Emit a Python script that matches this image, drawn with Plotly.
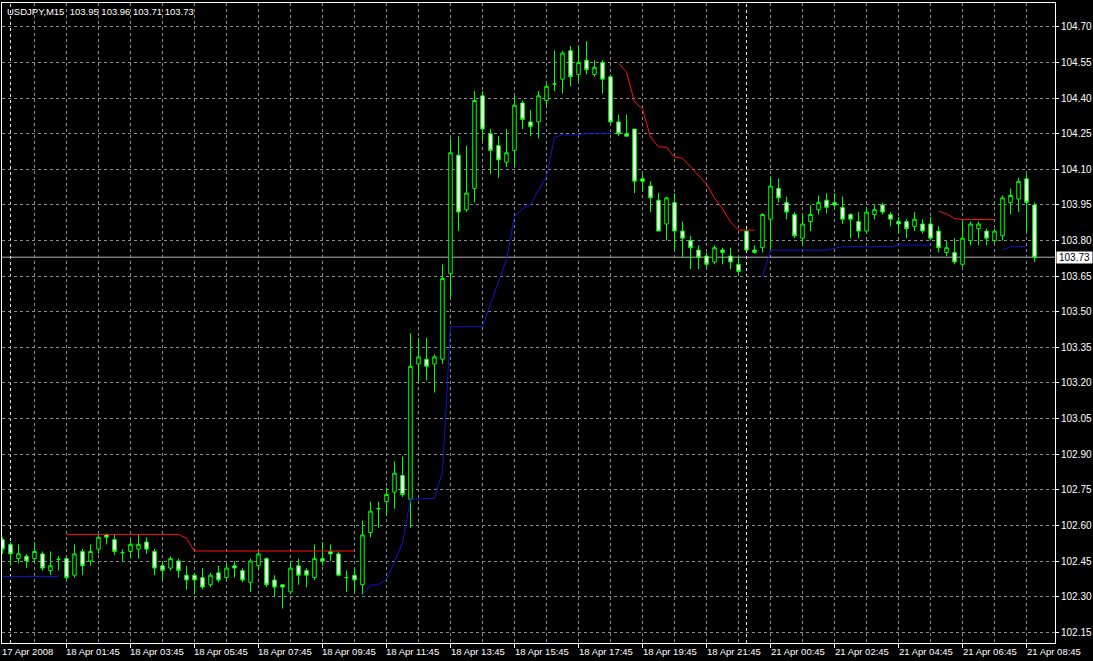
import plotly.graph_objects as go

# ---- data (USDJPY M15, bars 0..129) ----
open_ = [102.54, 102.52, 102.46, 102.47, 102.46, 102.48, 102.41, 102.457, 102.46, 102.39,
         102.49, 102.45, 102.50, 102.56, 102.54, 102.485, 102.49, 102.50, 102.53, 102.49,
         102.43, 102.42, 102.45, 102.39, 102.39, 102.38, 102.35, 102.40, 102.38, 102.43,
         102.41, 102.36, 102.43, 102.46, 102.37, 102.35, 102.32, 102.43, 102.41, 102.38,
         102.46, 102.49, 102.48, 102.38, 102.39, 102.35, 102.57, 102.67, 102.70, 102.74,
         102.81, 102.71, 103.28, 103.30, 103.28, 103.30, 103.66, 104.16, 103.93, 104.02,
         104.41, 104.25, 104.20, 104.13, 104.18, 104.38, 104.30, 104.30, 104.39, 104.46,
         104.48, 104.60, 104.50, 104.56, 104.50, 104.55, 104.49, 104.30, 104.25, 104.27,
         104.06, 104.03, 103.97, 103.87, 103.96, 103.84, 103.80, 103.76, 103.735, 103.71,
         103.76, 103.735, 103.70, 103.84, 103.76, 103.77, 103.89, 104.02, 103.96, 103.91,
         103.81, 103.88, 103.93, 103.97, 103.96, 103.94, 103.91, 103.88, 103.84, 103.91,
         103.95, 103.91, 103.88, 103.88, 103.86, 103.87, 103.87, 103.84, 103.75, 103.75,
         103.70, 103.80, 103.85, 103.84, 103.80, 103.82, 103.96, 103.975, 104.06, 103.95]
high = [102.55, 102.53, 102.52, 102.48, 102.53, 102.49, 102.49, 102.47, 102.47, 102.52,
        102.50, 102.52, 102.56, 102.565, 102.56, 102.50, 102.54, 102.56, 102.55, 102.50,
        102.45, 102.47, 102.46, 102.43, 102.40, 102.42, 102.40, 102.43, 102.44, 102.45,
        102.42, 102.46, 102.49, 102.465, 102.39, 102.35, 102.45, 102.46, 102.42, 102.52,
        102.53, 102.52, 102.49, 102.41, 102.42, 102.62, 102.70, 102.70, 102.76, 102.87,
        102.89, 103.41, 103.39, 103.39, 103.32, 103.70, 104.23, 104.24, 104.20, 104.43,
        104.43, 104.27, 104.24, 104.27, 104.41, 104.39, 104.35, 104.43, 104.46, 104.60,
        104.60, 104.62, 104.62, 104.64, 104.56, 104.56, 104.50, 104.33, 104.33, 104.27,
        104.08, 104.05, 104.00, 103.985, 104.00, 103.88, 103.82, 103.78, 103.75, 103.78,
        103.77, 103.77, 103.73, 103.85, 103.78, 103.915, 104.07, 104.06, 103.985, 103.92,
        103.91, 103.95, 103.99, 104.00, 104.00, 103.985, 103.915, 103.92, 103.94, 103.95,
        103.96, 103.92, 103.90, 103.89, 103.92, 103.89, 103.90, 103.86, 103.80, 103.81,
        103.88, 103.88, 103.88, 103.85, 103.85, 103.99, 104.02, 104.065, 104.08, 103.96]
low = [102.48, 102.43, 102.44, 102.42, 102.44, 102.41, 102.39, 102.41, 102.37, 102.38,
       102.39, 102.43, 102.48, 102.52, 102.475, 102.447, 102.46, 102.46, 102.48, 102.39,
       102.37, 102.41, 102.38, 102.33, 102.31, 102.33, 102.34, 102.36, 102.37, 102.38,
       102.36, 102.32, 102.41, 102.34, 102.30, 102.25, 102.31, 102.35, 102.34, 102.37,
       102.43, 102.45, 102.385, 102.32, 102.32, 102.31, 102.55, 102.59, 102.64, 102.67,
       102.72, 102.59, 103.205, 103.21, 103.16, 103.28, 103.56, 103.84, 103.92, 103.96,
       104.22, 104.08, 104.065, 104.11, 104.11, 104.27, 104.24, 104.23, 104.37, 104.43,
       104.42, 104.45, 104.47, 104.50, 104.49, 104.42, 104.29, 104.24, 104.24, 104.00,
       104.01, 103.92, 103.84, 103.80, 103.76, 103.73, 103.68, 103.68, 103.68, 103.70,
       103.70, 103.68, 103.655, 103.76, 103.745, 103.75, 103.76, 103.96, 103.89, 103.81,
       103.78, 103.84, 103.91, 103.915, 103.93, 103.87, 103.81, 103.81, 103.83, 103.89,
       103.91, 103.86, 103.83, 103.81, 103.84, 103.83, 103.80, 103.75, 103.735, 103.70,
       103.69, 103.78, 103.78, 103.78, 103.79, 103.80, 103.91, 103.92, 103.84, 103.71]
close = [102.50, 102.48, 102.48, 102.45, 102.49, 102.42, 102.43, 102.457, 102.38, 102.48,
         102.43, 102.49, 102.55, 102.55, 102.49, 102.485, 102.52, 102.52, 102.50, 102.42,
         102.41, 102.46, 102.41, 102.37, 102.37, 102.34, 102.39, 102.37, 102.42, 102.42,
         102.37, 102.45, 102.48, 102.35, 102.34, 102.34, 102.42, 102.39, 102.39, 102.46,
         102.45, 102.48, 102.39, 102.38, 102.37, 102.56, 102.66, 102.67, 102.73, 102.82,
         102.73, 103.27, 103.31, 103.27, 103.31, 103.64, 104.17, 103.92, 104.00, 104.39,
         104.27, 104.18, 104.14, 104.17, 104.37, 104.31, 104.28, 104.41, 104.45, 104.46,
         104.59, 104.49, 104.55, 104.52, 104.53, 104.48, 104.30, 104.25, 104.24, 104.05,
         104.05, 103.98, 103.84, 103.98, 103.84, 103.81, 103.77, 103.73, 103.70, 103.77,
         103.75, 103.71, 103.67, 103.76, 103.75, 103.91, 104.03, 103.98, 103.92, 103.82,
         103.87, 103.91, 103.96, 103.94, 103.95, 103.89, 103.89, 103.84, 103.92, 103.93,
         103.92, 103.89, 103.87, 103.85, 103.89, 103.84, 103.81, 103.77, 103.77, 103.71,
         103.81, 103.87, 103.87, 103.81, 103.84, 103.98, 103.99, 104.05, 103.96, 103.73]

N = len(close)
bars = list(range(N))

# trailing-stop indicator (red = above price, blue = below price), None = not drawn
red_line = ([None] * 8 + [102.562] * 15 + [102.545] + [102.492] * 21 + [None] * 32 +
            [104.547, 104.51, 104.384, 104.354, 104.236, 104.195, 104.193, 104.152, 104.147,
             104.11, 104.076, 104.038, 103.979, 103.933, 103.879, 103.844, 103.844, 103.844] +
            [None] * 22 +
            [103.924, 103.912, 103.893, 103.889, 103.889, 103.889, 103.889, 103.889] +
            [None] * 5)
blue_line = ([102.385] * 8 + [None] * 37 +
             [102.307, 102.349, 102.349, 102.373, 102.447, 102.527, 102.71, 102.712, 102.712,
              102.714, 102.826, 103.437, 103.437, 103.437, 103.437, 103.437, 103.534, 103.631,
              103.72, 103.903, 103.934, 103.95, 104.013, 104.069, 104.236, 104.245, 104.245,
              104.245, 104.252, 104.252, 104.252, 104.252] +
             [None] * 18 +
             [103.648] + [103.76] * 8 + [103.768] + [103.774] * 7 + [103.781] * 5 +
             [None] * 8 +
             [103.76, 103.774, 103.774, 103.774, None])

# time axis labels
label_bars = [0, 8, 16, 24, 32, 40, 48, 56, 64, 72, 80, 88, 96, 104, 112, 120, 128]
label_text = ["17 Apr 2008", "18 Apr 01:45", "18 Apr 03:45", "18 Apr 05:45", "18 Apr 07:45",
              "18 Apr 09:45", "18 Apr 11:45", "18 Apr 13:45", "18 Apr 15:45", "18 Apr 17:45",
              "18 Apr 19:45", "18 Apr 21:45", "21 Apr 00:45", "21 Apr 02:45", "21 Apr 04:45",
              "21 Apr 06:45", "21 Apr 08:45"]
minor_grid_bars = [4, 12, 20, 28, 36, 44, 52, 60, 68, 76, 84, 92, 100, 108, 116, 124]
day_separator_bars = [1, 93]
symbol = "USDJPY,M15"

FONT = "Liberation Sans"
GRID = "#8c8c8c"

fig = go.Figure()
fig.add_trace(go.Candlestick(
    x=bars, open=open_, high=high, low=low, close=close,
    increasing=dict(line=dict(color="#00ff00", width=1), fillcolor="#000000"),
    decreasing=dict(line=dict(color="#00ff00", width=1), fillcolor="#ffffff"),
    whiskerwidth=0, showlegend=False, hoverinfo="skip"))
fig.add_trace(go.Scatter(x=bars, y=red_line, mode="lines", line=dict(color="#ff1010", width=1),
                         connectgaps=False, showlegend=False, hoverinfo="skip"))
fig.add_trace(go.Scatter(x=bars, y=blue_line, mode="lines", line=dict(color="#1414d0", width=1),
                         connectgaps=False, showlegend=False, hoverinfo="skip"))

shapes = []
for b in day_separator_bars:
    shapes.append(dict(type="line", xref="x", yref="paper", x0=b, x1=b, y0=0, y1=1,
                       line=dict(color="#e8e8e8", width=1, dash="3px,3px"), layer="below"))
shapes.append(dict(type="line", xref="paper", yref="y", x0=0, x1=1, y0=close[-1], y1=close[-1],
                   line=dict(color="#b4b4b4", width=1), layer="below"))

annotations = []
for b, t in zip(label_bars, label_text):
    annotations.append(dict(x=b, y=0, xref="x", yref="paper", text=t, showarrow=False,
                            xanchor="left", yanchor="top", xshift=-2, yshift=-1,
                            font=dict(family=FONT, size=9.5, color="white")))
annotations.append(dict(x=0, y=1, xref="paper", yref="paper",
                        text=f"{symbol}\u00a0\u00a0{open_[-1]:.2f} {high[-1]:.2f} {low[-1]:.2f} {close[-1]:.2f}",
                        showarrow=False, xanchor="left", yanchor="top", xshift=3, yshift=-1,
                        font=dict(family=FONT, size=9.5, color="white")))
annotations.append(dict(x=1, y=close[-1], xref="paper", yref="y", text=f"{close[-1]:.2f}",
                        showarrow=False, xanchor="left", yanchor="middle", xshift=1,
                        bgcolor="white", borderpad=0, width=35,
                        font=dict(family=FONT, size=10, color="black")))

fig.update_layout(
    width=1093, height=661,
    margin=dict(l=2, r=38, t=3, b=18, autoexpand=False),
    paper_bgcolor="black", plot_bgcolor="black",
    showlegend=False,
    boxgap=0.38,
    shapes=shapes, annotations=annotations,
    xaxis=dict(range=[-0.06, 131.56], rangeslider=dict(visible=False),
               showline=True, mirror=True, linecolor="white", linewidth=1,
               tickmode="array", tickvals=label_bars[1:], showticklabels=False,
               ticks="outside", ticklen=4, tickcolor="white",
               showgrid=True, gridcolor=GRID, griddash="3px,3px", gridwidth=1,
               minor=dict(tickmode="array", tickvals=minor_grid_bars, showgrid=True,
                          gridcolor=GRID, griddash="3px,3px", gridwidth=1, ticks=""),
               zeroline=False, fixedrange=True, automargin=False),
    yaxis=dict(side="right", range=[102.1045, 104.801],
               tick0=102.15, dtick=0.15, tickformat=".2f",
               showline=True, mirror=True, linecolor="white", linewidth=1,
               ticks="outside", ticklen=3, tickcolor="white",
               tickfont=dict(family=FONT, size=10, color="white"),
               showgrid=True, gridcolor=GRID, griddash="3px,3px", gridwidth=1,
               zeroline=False, fixedrange=True, automargin=False),
)

fig.write_html("out.html", config={"displayModeBar": False},
               post_script="document.body.style.margin='0';document.body.style.overflow='hidden';")
